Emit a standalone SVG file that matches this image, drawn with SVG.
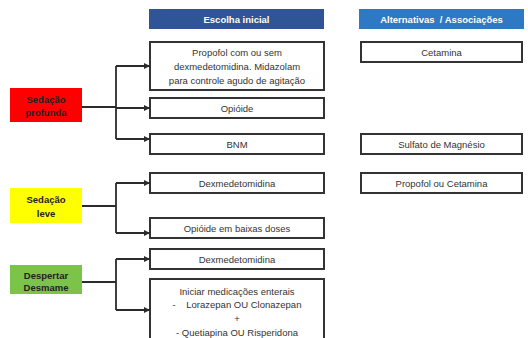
<svg xmlns="http://www.w3.org/2000/svg" width="528" height="338" viewBox="0 0 528 338">
  <defs>
    <marker id="arrow" viewBox="0 0 6 6" refX="6" refY="3" markerWidth="6" markerHeight="6" markerUnits="userSpaceOnUse" orient="auto">
      <path d="M0,0 L6,3 L0,6 Z" fill="#2b2b2b"/>
    </marker>
    <style>
      text { font-family: "Liberation Sans", Arial, sans-serif; font-size: 9.5px; fill: #333; text-anchor: middle; dominant-baseline: central; }
      .head { fill: #fff; font-weight: bold; }
      .cat { font-weight: bold; fill: #222; }
      .box { fill: #fff; stroke: #333; stroke-width: 2; }
      .conn { fill: none; stroke: #2b2b2b; stroke-width: 1.8; }
    </style>
  </defs>
  <rect width="528" height="338" fill="#fff"/>

  <!-- column headers -->
  <g id="header-escolha">
    <rect x="149" y="9" width="175" height="20" fill="#2F5597"/>
    <text class="head" x="236.5" y="19">Escolha inicial</text>
  </g>
  <g id="header-alternativas">
    <rect x="359" y="9" width="165" height="20" fill="#2E78C4"/>
    <text class="head" x="441.5" y="19" xml:space="preserve">Alternativas  / Associações</text>
  </g>

  <!-- categories -->
  <g id="sedacao-profunda">
    <rect x="10" y="88" width="72" height="34" fill="#FF0000"/>
    <text class="cat" x="46" y="99">Sedação</text>
    <text class="cat" x="46" y="112">profunda</text>
  </g>
  <g id="sedacao-leve">
    <rect x="10" y="188" width="72" height="35" fill="#FFFF00"/>
    <text class="cat" x="46" y="199">Sedação</text>
    <text class="cat" x="46" y="213">leve</text>
  </g>
  <g id="despertar-desmame">
    <rect x="10" y="265" width="72" height="29" fill="#7CC34A"/>
    <text class="cat" x="46" y="275">Despertar</text>
    <text class="cat" x="46" y="287">Desmame</text>
  </g>

  <!-- initial choice boxes -->
  <g id="propofol">
    <rect class="box" x="150" y="42" width="174" height="48"/>
    <text x="237" y="52">Propofol com ou sem</text>
    <text x="237" y="66">dexmedetomidina. Midazolam</text>
    <text x="237" y="80">para controle agudo de agitação</text>
  </g>
  <g id="opioide">
    <rect class="box" x="150" y="98" width="174" height="20"/>
    <text x="237" y="108">Opióide</text>
  </g>
  <g id="bnm">
    <rect class="box" x="150" y="134" width="174" height="20"/>
    <text x="237" y="144">BNM</text>
  </g>
  <g id="dexmedetomidina-leve">
    <rect class="box" x="150" y="173" width="174" height="20"/>
    <text x="237" y="183">Dexmedetomidina</text>
  </g>
  <g id="opioide-baixas">
    <rect class="box" x="150" y="218" width="174" height="20"/>
    <text x="237" y="228">Opióide em baixas doses</text>
  </g>
  <g id="dexmedetomidina-desmame">
    <rect class="box" x="150" y="249" width="174" height="20"/>
    <text x="237" y="259">Dexmedetomidina</text>
  </g>
  <g id="enterais">
    <rect class="box" x="150" y="279" width="174" height="70"/>
    <text x="237" y="291">Iniciar medicações enterais</text>
    <text x="237" y="304" xml:space="preserve">-    Lorazepan OU Clonazepan</text>
    <text x="237" y="318">+</text>
    <text x="237" y="332">- Quetiapina OU Risperidona</text>
  </g>

  <!-- alternatives -->
  <g id="cetamina">
    <rect class="box" x="361" y="42" width="161" height="20"/>
    <text x="441.5" y="52">Cetamina</text>
  </g>
  <g id="sulfato">
    <rect class="box" x="361" y="134" width="161" height="20"/>
    <text x="441.5" y="144">Sulfato de Magnésio</text>
  </g>
  <g id="propofol-cetamina">
    <rect class="box" x="361" y="173" width="161" height="20"/>
    <text x="441.5" y="183">Propofol ou Cetamina</text>
  </g>

  <!-- connectors -->
  <g id="connectors">
    <path class="conn" d="M82,107 H116"/>
    <path class="conn" d="M116,66 V139"/>
    <path class="conn" d="M116,66 H150" marker-end="url(#arrow)"/>
    <path class="conn" d="M116,108 H150" marker-end="url(#arrow)"/>
    <path class="conn" d="M116,139 H150" marker-end="url(#arrow)"/>

    <path class="conn" d="M82,206 H116"/>
    <path class="conn" d="M116,183 V233"/>
    <path class="conn" d="M116,183 H150" marker-end="url(#arrow)"/>
    <path class="conn" d="M116,233 H150" marker-end="url(#arrow)"/>

    <path class="conn" d="M82,282 H116"/>
    <path class="conn" d="M116,259 V310"/>
    <path class="conn" d="M116,259 H150" marker-end="url(#arrow)"/>
    <path class="conn" d="M116,310 H150" marker-end="url(#arrow)"/>
  </g>
</svg>
